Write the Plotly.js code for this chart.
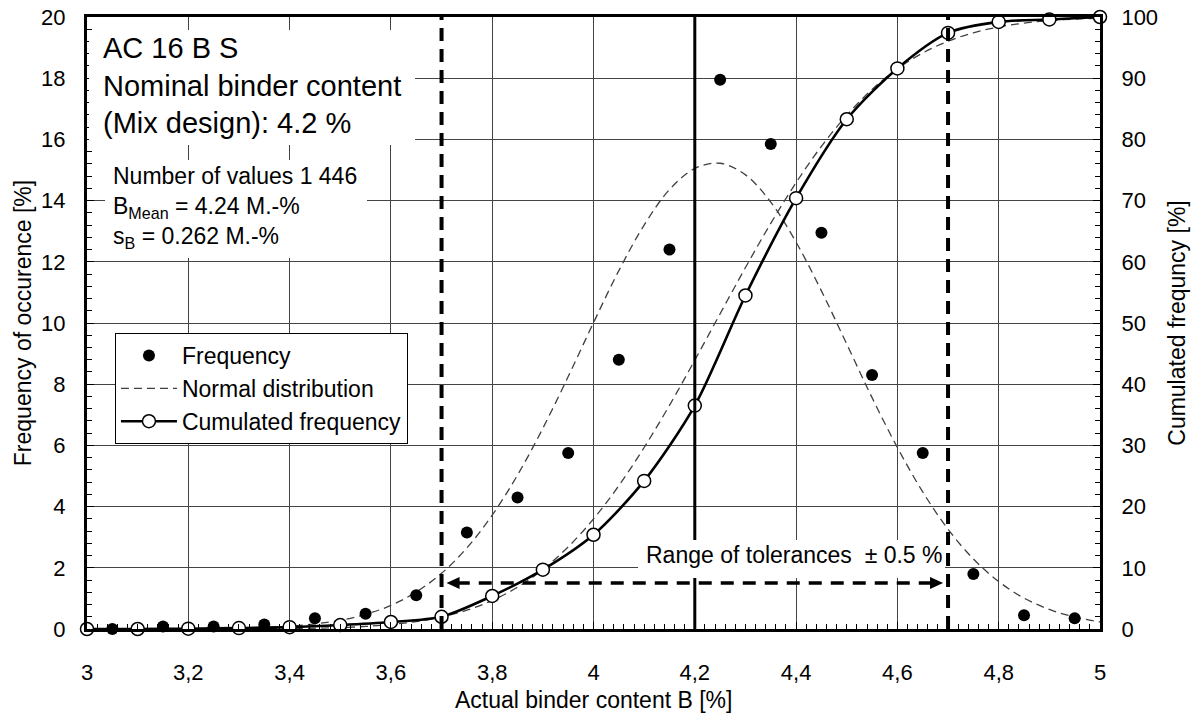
<!DOCTYPE html>
<html>
<head>
<meta charset="utf-8">
<script src="https://cdn.plot.ly/plotly-3.0.1.min.js"></script>
<style>html,body{margin:0;padding:0;background:#fff;}#chart{width:1195px;height:718px;}</style>
</head>
<body>
<div id="chart"></div>
<script>
// ---- Data ----
const binMid = [3.05,3.15,3.25,3.35,3.45,3.55,3.65,3.75,3.85,3.95,4.05,4.15,4.25,4.35,4.45,4.55,4.65,4.75,4.85,4.95];
const frequency = [0,0.08,0.08,0.15,0.35,0.5,1.1,3.15,4.3,5.75,8.8,12.4,17.95,15.85,12.95,8.3,5.75,1.8,0.45,0.35];

const cumX = [3.0,3.1,3.2,3.3,3.4,3.5,3.6,3.7,3.8,3.9,4.0,4.1,4.2,4.3,4.4,4.5,4.6,4.7,4.8,4.9,5.0];
const cumulated = [0,0,0.05,0.15,0.3,0.65,1.15,2.0,5.4,9.7,15.4,24.2,36.5,54.5,70.4,83.3,91.6,97.4,99.2,99.6,100];

const normX = [3.0,3.1,3.2,3.3,3.4,3.5,3.55,3.6,3.65,3.7,3.75,3.8,3.85,3.9,3.95,4.0,4.05,4.1,4.15,4.2,4.25,4.3,4.35,4.4,4.45,4.5,4.55,4.6,4.65,4.7,4.75,4.8,4.85,4.9,4.95,5.0];
const normalPdf = [0.0002,0.0012,0.006,0.024,0.089,0.28,0.48,0.77,1.21,1.82,2.65,3.72,5.03,6.56,8.25,10.01,11.71,13.2,14.36,15.05,15.22,14.84,13.95,12.64,11.05,9.31,7.56,5.93,4.48,3.26,2.29,1.55,1.01,0.64,0.39,0.23];
const normalCdf = [0,0,0.004,0.017,0.067,0.24,0.42,0.73,1.22,1.97,3.07,4.66,6.83,9.72,13.42,17.98,23.42,29.66,36.55,43.93,51.52,59.06,66.28,72.94,78.87,83.94,88.16,91.53,94.12,96.04,97.42,98.37,99.0,99.41,99.66,99.81];

const nominal = 4.2;
const tolLower = 3.7;
const tolUpper = 4.7;
const arrowLevel = 1.5;

const xTitle = 'Actual binder content B [%]';
const yTitle = 'Frequency of occurence [%]';
const y2Title = 'Cumulated frequncy [%]';
const infoBig = 'AC 16 B S<br>Nominal binder content<br>(Mix design): 4.2 %';
const infoSmall = 'Number of values 1 446<br>B<sub>Mean</sub> = 4.24 M.-%<br>s<sub>B</sub> = 0.262 M.-%';
const rangeText = 'Range of tolerances\u00a0 ± 0.5 %';

// ---- Traces ----
const traces = [
  {x: normX, y: normalPdf, type: 'scatter', mode: 'lines', name: 'Normal distribution',
   line: {color: '#404040', width: 1.3, dash: '8px,5px', shape: 'spline'}, yaxis: 'y', legendrank: 2},
  {x: normX, y: normalCdf, type: 'scatter', mode: 'lines', name: 'Normal cdf', showlegend: false,
   line: {color: '#404040', width: 1.3, dash: '8px,5px', shape: 'spline'}, yaxis: 'y2'},
  {x: cumX, y: cumulated, type: 'scatter', mode: 'lines+markers', name: 'Cumulated frequency',
   line: {color: '#000', width: 2.6, shape: 'spline', smoothing: 0.8},
   marker: {symbol: 'circle', size: 13, color: '#fff', line: {color: '#000', width: 1.5}},
   yaxis: 'y2', cliponaxis: false, legendrank: 3},
  {x: binMid, y: frequency, type: 'scatter', mode: 'markers', name: 'Frequency',
   marker: {symbol: 'circle', size: 12, color: '#000'}, yaxis: 'y', cliponaxis: false, legendrank: 1}
];

const tickFont = {size: 22, color: '#000'};
const titleFont = {size: 23, color: '#000'};

const layout = {
  width: 1195, height: 718,
  margin: {l: 87, r: 95, t: 17, b: 89},
  paper_bgcolor: '#fff', plot_bgcolor: '#fff',
  font: {family: 'Liberation Sans, Arial, sans-serif', color: '#000'},
  separators: ', ',
  showlegend: true,
  legend: {x: 0.0276, y: 0.4837, xanchor: 'left', yanchor: 'top', bgcolor: '#fff',
           bordercolor: '#000', borderwidth: 1, font: {size: 23, color: '#000'},
           traceorder: 'normal', itemwidth: 56},
  xaxis: {range: [3, 5], tick0: 3, dtick: 0.2, showgrid: true, gridcolor: '#444', gridwidth: 1,
          showline: true, linecolor: '#000', linewidth: 3, mirror: true, zeroline: false,
          ticks: 'inside', ticklen: 7, tickwidth: 1, tickcolor: '#000',
          minor: {dtick: 0.02, ticks: 'inside', ticklen: 5, tickwidth: 1, tickcolor: '#000', showgrid: false},
          tickfont: tickFont, ticklabelstandoff: 22, automargin: false},
  yaxis: {range: [0, 20], tick0: 0, dtick: 2, showgrid: true, gridcolor: '#444', gridwidth: 1,
          showline: true, linecolor: '#000', linewidth: 3, zeroline: false,
          ticks: 'inside', ticklen: 7, tickwidth: 1, tickcolor: '#000',
          minor: {dtick: 0.4, ticks: 'inside', ticklen: 5, tickwidth: 1, tickcolor: '#000', showgrid: false},
          tickfont: tickFont, ticklabelstandoff: 14, automargin: false,
          title: {text: yTitle, font: titleFont, standoff: 4}},
  yaxis2: {range: [0, 100], tick0: 0, dtick: 10, overlaying: 'y', side: 'right', showgrid: false,
           showline: true, linecolor: '#000', linewidth: 3, zeroline: false,
           ticks: 'inside', ticklen: 7, tickwidth: 1, tickcolor: '#000',
           minor: {dtick: 2, ticks: 'inside', ticklen: 5, tickwidth: 1, tickcolor: '#000', showgrid: false},
           tickfont: tickFont, ticklabelstandoff: 14, automargin: false,
           title: {text: y2Title, font: titleFont, standoff: 12}},
  shapes: [
    {type: 'rect', xref: 'paper', yref: 'paper', x0: 0.002, x1: 0.3238, y0: 0.7908, y1: 0.9788,
     fillcolor: '#fff', line: {width: 0}, layer: 'above'},
    {type: 'rect', xref: 'paper', yref: 'paper', x0: 0.0178, x1: 0.2764, y0: 0.6062, y1: 0.7663,
     fillcolor: '#fff', line: {width: 0}, layer: 'above'},
    {type: 'line', xref: 'x', yref: 'paper', x0: nominal, x1: nominal, y0: 0, y1: 1,
     line: {color: '#000', width: 3}, layer: 'above'},
    {type: 'rect', xref: 'x', yref: 'y', x0: 4.088, x1: 4.694, y0: 1.67, y1: 2.91,
     fillcolor: '#fff', line: {width: 0}, layer: 'above'},
    {type: 'line', xref: 'x', yref: 'paper', x0: tolLower, x1: tolLower, y0: 0, y1: 1,
     line: {color: '#000', width: 4, dash: '13px,8px'}, layer: 'above'},
    {type: 'line', xref: 'x', yref: 'paper', x0: tolUpper, x1: tolUpper, y0: 0, y1: 1,
     line: {color: '#000', width: 4, dash: '13px,8px'}, layer: 'above'},
    {type: 'line', xref: 'x', yref: 'y', x0: tolLower + 0.03, x1: tolUpper - 0.03, y0: arrowLevel, y1: arrowLevel,
     line: {color: '#000', width: 3.5, dash: '13px,9px'}, layer: 'above'},
    {type: 'path', xref: 'x', yref: 'y', xsizemode: 'pixel', ysizemode: 'pixel',
     xanchor: tolLower, yanchor: arrowLevel, path: 'M 5,0 L 18,-6 L 18,6 Z',
     fillcolor: '#000', line: {width: 0}, layer: 'above'},
    {type: 'path', xref: 'x', yref: 'y', xsizemode: 'pixel', ysizemode: 'pixel',
     xanchor: tolUpper, yanchor: arrowLevel, path: 'M -5,0 L -18,-6 L -18,6 Z',
     fillcolor: '#000', line: {width: 0}, layer: 'above'}
  ],
  annotations: [
    {xref: 'paper', yref: 'paper', x: 0.0138, y: 0.888, xanchor: 'left', yanchor: 'middle', align: 'left',
     text: infoBig, showarrow: false, font: {size: 29, color: '#000'}},
    {xref: 'paper', yref: 'paper', x: 0.0235, y: 0.6895, xanchor: 'left', yanchor: 'middle', align: 'left',
     text: infoSmall, showarrow: false, font: {size: 23, color: '#000'}},
    {xref: 'x', yref: 'y', x: 4.396, y: 2.42, xanchor: 'center', yanchor: 'middle',
     text: rangeText, showarrow: false, font: {size: 23, color: '#000'}},
    {xref: 'paper', yref: 'paper', x: 0.5, y: -0.116, xanchor: 'center', yanchor: 'middle',
     text: xTitle, showarrow: false, font: titleFont}
  ]
};

Plotly.newPlot('chart', traces, layout, {displayModeBar: false, staticPlot: true});
</script>
</body>
</html>
